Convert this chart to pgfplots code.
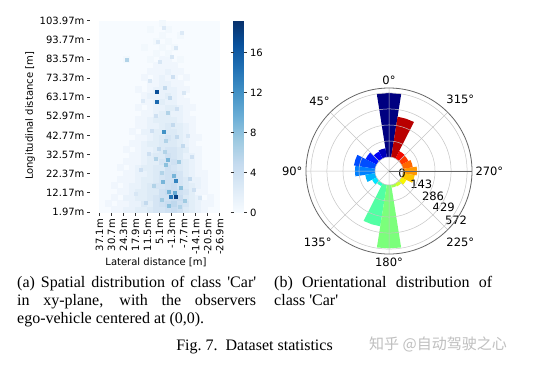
\documentclass[border=0pt]{standalone}
\usepackage{fontspec}
\setmainfont{DejaVu Sans}
\newfontfamily\capfont{Liberation Serif}[Ligatures=TeXOff]
\newfontfamily\cjk{Noto Sans CJK SC}
\usepackage{pgfplots}
\pgfplotsset{compat=1.18}
\usepgfplotslibrary{polar}
\pgfplotsset{/pgf/number format/assume math mode=true}
\definecolor{blues0}{RGB}{247,251,255}
\pgfplotsset{colormap={blues}{rgb255=(247,251,255) rgb255=(222,235,247) rgb255=(198,219,239) rgb255=(158,202,225) rgb255=(107,174,214) rgb255=(66,146,198) rgb255=(33,113,181) rgb255=(8,81,156) rgb255=(8,48,107)}}
\definecolor{jetc0}{RGB}{0,0,128}
\definecolor{jetc1}{RGB}{0,0,185}
\definecolor{jetc2}{RGB}{0,0,244}
\definecolor{jetc3}{RGB}{0,26,255}
\definecolor{jetc4}{RGB}{0,77,255}
\definecolor{jetc5}{RGB}{0,128,255}
\definecolor{jetc6}{RGB}{0,179,255}
\definecolor{jetc7}{RGB}{0,230,255}
\definecolor{jetc8}{RGB}{41,255,206}
\definecolor{jetc9}{RGB}{82,255,164}
\definecolor{jetc10}{RGB}{123,255,123}
\definecolor{jetc11}{RGB}{164,255,82}
\definecolor{jetc12}{RGB}{206,255,41}
\definecolor{jetc13}{RGB}{247,245,0}
\definecolor{jetc14}{RGB}{255,198,0}
\definecolor{jetc15}{RGB}{255,151,0}
\definecolor{jetc16}{RGB}{255,104,0}
\definecolor{jetc17}{RGB}{255,57,0}
\definecolor{jetc18}{RGB}{244,9,0}
\definecolor{jetc19}{RGB}{185,0,0}
\newcommand{\tl}{\fontsize{10}{12}\selectfont}
\newcommand{\pl}{\fontsize{11.5}{13}\selectfont}
\begin{document}
\begin{tikzpicture}
\useasboundingbox (0pt,0pt) rectangle (534pt,365pt);
\fill[white] (0pt,0pt) rectangle (534pt,365pt);
% ---------------- heatmap ----------------
\begin{axis}[
  at={(99pt,152.5pt)}, anchor=south west,
  scale only axis, width=121pt, height=192pt,
  xmin=-0.5, xmax=19.656, ymin=-0.5, ymax=31.494,
  axis background/.style={fill=blues0},
  axis line style={draw=none},
  xtick={-0.406,1.594,3.594,5.594,7.594,9.594,11.594,13.594,15.594,17.594,19.594},
  xticklabels={37.1m,30.7m,24.3m,17.9m,11.5m,5.1m,-1.3m,-7.7m,-14.1m,-20.5m,-26.9m},
  ytick={-0.416,2.772,5.959,9.147,12.334,15.522,18.709,21.897,25.084,28.272,31.459},
  yticklabels={1.97m,12.17m,22.37m,32.57m,42.77m,52.97m,63.17m,73.37m,83.57m,93.77m,103.97m},
  xtick pos=left, ytick pos=left,
  tick align=outside, major tick length=3pt,
  tick style={black!80, line width=0.8pt},
  ytick style={xshift=-9pt},
  yticklabel style={xshift=-8pt},
  tick label style={font=\tl},
  xticklabel style={rotate=90, anchor=east},
  colormap name=blues,
  point meta min=0, point meta max=19.2,
  colorbar,
  colorbar style={
    at={(parent axis.north east)}, anchor=north west, xshift=5pt,
    width=10pt,
    ytick={0,4,8,12,16},
    axis line style={draw=none},
    tick align=outside, major tick length=3pt,
    yticklabel pos=right,
    tick style={black!80, line width=0.8pt},
    yticklabel style={font=\tl},
  },
]
\addplot[scatter, only marks, mark=square*, mark size=3pt,
  scatter/use mapped color={draw=mapped color, fill=mapped color},
  point meta=explicit]
  table[row sep=\\, meta index=2] {
c r v\\
2 0 0.7\\ 3 0 0.7\\ 4 0 1.3\\ 5 0 1.3\\ 6 0 2\\ 7 0 2\\ 8 0 2.6\\ 9 0 3.3\\ 10 0 3.3\\ 11 0 3.9\\ 12 0 4.5\\ 13 0 3.9\\ 14 0 2.6\\ 15 0 2\\ 16 0 1.3\\ 17 0 0.7\\
1 1 0.7\\ 3 1 0.7\\ 4 1 0.7\\ 5 1 1.3\\ 6 1 1.3\\ 7 1 2.6\\ 8 1 2\\ 9 1 3.3\\ 10 1 3.9\\ 11 1 4.5\\ 12 1 5.2\\ 13 1 3.9\\ 14 1 3.3\\ 15 1 2\\ 16 1 1.3\\ 17 1 0.7\\ 18 1 0.7\\
2 2 0.7\\ 4 2 1.3\\ 5 2 1.3\\ 6 2 2\\ 7 2 2\\ 8 2 2.6\\ 9 2 3.3\\ 10 2 3.9\\ 11 2 3.9\\ 12 2 4.5\\ 13 2 4.5\\ 14 2 2.6\\ 15 2 2\\ 16 2 1.3\\ 18 2 0.7\\
3 3 0.7\\ 4 3 0.7\\ 5 3 1.3\\ 6 3 2\\ 7 3 2\\ 8 3 2.6\\ 9 3 2.6\\ 10 3 3.9\\ 11 3 4.5\\ 12 3 4.5\\ 13 3 3.9\\ 14 3 3.3\\ 15 3 2\\ 16 3 0.7\\ 17 3 0.7\\
2 4 0.7\\ 4 4 0.7\\ 5 4 1.3\\ 6 4 1.3\\ 7 4 2\\ 8 4 2.6\\ 9 4 3.3\\ 10 4 3.3\\ 11 4 3.9\\ 12 4 4.5\\ 13 4 3.3\\ 14 4 2.6\\ 15 4 2\\ 16 4 1.3\\ 17 4 0.7\\
3 5 0.7\\ 4 5 0.7\\ 5 5 0.7\\ 6 5 1.3\\ 7 5 2\\ 8 5 2\\ 9 5 2.6\\ 10 5 3.3\\ 11 5 3.9\\ 12 5 3.9\\ 13 5 3.3\\ 14 5 2.6\\ 15 5 1.3\\ 16 5 1.3\\ 17 5 0.7\\
4 6 0.7\\ 5 6 0.7\\ 6 6 1.3\\ 7 6 1.3\\ 8 6 2\\ 9 6 2.6\\ 10 6 3.3\\ 11 6 3.9\\ 12 6 3.9\\ 13 6 3.3\\ 14 6 2\\ 15 6 1.3\\ 16 6 0.7\\ 17 6 0.7\\
3 7 0.7\\ 5 7 0.7\\ 6 7 1.3\\ 7 7 2\\ 8 7 2\\ 9 7 2.6\\ 10 7 2.6\\ 11 7 3.9\\ 12 7 3.3\\ 13 7 2.6\\ 14 7 2\\ 15 7 1.3\\ 16 7 0.7\\
4 8 0.7\\ 5 8 0.7\\ 6 8 0.7\\ 7 8 1.3\\ 8 8 2\\ 9 8 2\\ 10 8 3.3\\ 11 8 3.3\\ 12 8 3.9\\ 13 8 2.6\\ 14 8 2\\ 15 8 1.3\\ 16 8 0.7\\
5 9 0.7\\ 6 9 0.7\\ 7 9 1.3\\ 8 9 2\\ 9 9 2.6\\ 10 9 2.6\\ 11 9 3.9\\ 12 9 3.3\\ 13 9 2.6\\ 14 9 1.3\\ 15 9 1.3\\ 16 9 0.7\\
4 10 0.7\\ 6 10 0.7\\ 7 10 1.3\\ 8 10 1.3\\ 9 10 2\\ 10 10 2.6\\ 11 10 3.3\\ 12 10 3.3\\ 13 10 2.6\\ 14 10 2\\ 15 10 0.7\\ 16 10 0.7\\
5 11 0.7\\ 6 11 0.7\\ 7 11 1.3\\ 8 11 2\\ 9 11 2\\ 10 11 2.6\\ 11 11 2.6\\ 12 11 2.6\\ 13 11 2\\ 14 11 1.3\\ 15 11 0.7\\
6 12 0.7\\ 7 12 0.7\\ 8 12 1.3\\ 9 12 2\\ 10 12 2.6\\ 11 12 3.3\\ 12 12 2.6\\ 13 12 2\\ 14 12 1.3\\ 15 12 0.7\\ 16 12 0.7\\
5 13 0.7\\ 7 13 1.3\\ 8 13 1.3\\ 9 13 2\\ 10 13 2\\ 11 13 2.6\\ 12 13 2.6\\ 13 13 2\\ 14 13 1.3\\ 15 13 0.7\\
6 14 0.7\\ 7 14 0.7\\ 8 14 1.3\\ 9 14 1.3\\ 10 14 2\\ 11 14 2.6\\ 12 14 2\\ 13 14 2\\ 14 14 1.3\\ 15 14 0.7\\
6 15 0.7\\ 7 15 0.7\\ 8 15 1.3\\ 9 15 2\\ 10 15 2\\ 11 15 2\\ 12 15 2\\ 13 15 1.3\\ 14 15 0.7\\ 15 15 0.7\\
7 16 0.7\\ 8 16 0.7\\ 9 16 1.3\\ 10 16 2\\ 11 16 2\\ 12 16 1.3\\ 13 16 1.3\\ 14 16 0.7\\
6 17 0.7\\ 8 17 0.7\\ 9 17 1.3\\ 10 17 1.3\\ 11 17 2\\ 12 17 2\\ 13 17 1.3\\ 14 17 0.7\\ 15 17 0.7\\
7 18 0.7\\ 8 18 0.7\\ 9 18 1.3\\ 10 18 2\\ 11 18 1.3\\ 12 18 1.3\\ 13 18 0.7\\ 14 18 0.7\\
7 19 0.7\\ 8 19 1.3\\ 9 19 1.3\\ 10 19 1.3\\ 11 19 2\\ 12 19 1.3\\ 13 19 0.7\\
6 20 0.7\\ 8 20 0.7\\ 9 20 1.3\\ 10 20 1.3\\ 11 20 1.3\\ 12 20 1.3\\ 13 20 0.7\\ 14 20 0.7\\
8 21 0.7\\ 9 21 0.7\\ 10 21 1.3\\ 11 21 1.3\\ 12 21 0.7\\ 13 21 0.7\\
7 22 0.7\\ 9 22 0.7\\ 10 22 1.3\\ 11 22 0.7\\ 12 22 0.7\\ 14 22 0.7\\
8 23 0.7\\ 9 23 0.7\\ 10 23 0.7\\ 11 23 1.3\\ 12 23 0.7\\ 13 23 0.7\\
9 24 0.7\\ 10 24 0.7\\ 11 24 0.7\\ 12 24 0.7\\
4 25 0.5\\ 8 25 0.5\\ 10 25 0.7\\ 11 25 0.7\\ 13 25 0.5\\
9 26 0.5\\ 11 26 0.5\\
7 27 0.5\\ 10 27 0.5\\ 12 27 0.5\\
9 28 0.5\\ 11 28 0.5\\
10 29 0.5\\ 13 29 0.5\\
8 30 0.5\\ 11 30 0.5\\
10 31 0.5\\
};
\addplot[scatter, only marks, mark=square*, mark size=1.5pt,
  scatter/use mapped color={draw=mapped color, fill=mapped color},
  point meta=explicit]
  table[row sep=\\, meta index=2] {
c r v\\
9.17 19.58 17\\ 9.17 17.92 15\\ 10.33 12.92 12\\ 12.33 4.75 13\\ 11.5 2.08 14\\ 12.33 2.08 18\\
11.0 8.25 9\\ 4.17 24.92 6\\ 10.17 4.58 9\\ 10.67 7.42 8\\ 9.0 8.42 6\\ 12.17 2.75 10\\ 11.17 2.92 9\\
7.3 1.2 5\\ 8.6 3.9 6\\ 13.8 1.5 7\\ 14.6 5.1 5\\ 9.9 6.2 6\\ 12.8 7.9 7\\ 7.7 9.3 4\\ 13.4 10.6 5\\
10.6 11.4 6\\ 11.8 14.2 5\\ 8.9 15.7 4\\ 12.5 16.8 4\\ 10.4 20.3 5\\ 11.7 22.1 4\\ 9.6 24.6 3\\
12.2 26.9 3\\ 8.3 13.1 4\\ 14.2 12.3 3\\ 6.4 6.6 4\\ 15.3 3.3 4\\ 11.1 0.6 8\\ 12.9 0.4 6\\
10.0 1.6 7\\ 13.1 3.6 8\\ 9.4 10.1 5\\ 11.3 18.6 5\\ 10.9 16.1 6\\ 13.6 19.4 3\\ 5.6 2.7 3\\
16.2 1.9 3\\ 7.9 21.4 3\\ 14.9 8.8 4\\ 11.9 5.6 9\\ 10.5 9.6 6\\ 12.4 12.2 5\\ 9.2 27.9 2.5\\
13.3 29.4 2.5\\ 6.8 18.2 2.5\\ 11.6 25.5 3\\ 10.2 30.3 2.5\\
};
\end{axis}
\node[font=\tl, rotate=90] at (30pt,249pt) {Longitudinal distance [m]};
\node[font=\tl] at (156pt,103pt) {Lateral distance [m]};
% ---------------- polar ----------------
\begin{polaraxis}[
  at={(389pt,194pt)}, anchor=center,
  scale only axis, width=166pt, height=166pt,
  xmin=0, xmax=360, ymin=0, ymax=741,
  xtick={0,45,...,315},
  xticklabels={270°,315°,0°,45°,90°,135°,180°,225°},
  ytick={125,268,411,554,697},
  yticklabels={},
  major tick length=0pt,
  grid=major,
  major grid style={gray!45, line width=0.5pt},
  axis line style={black!60, line width=0.8pt},
  axis on top,
  clip=false,
  xticklabel style={font=\pl},
]
\foreach \i/\v in {0/572,1/80,2/70,3/110,4/192,5/179,6/90,7/45,8/27,9/375,10/566,11/25,12/30,13/50,14/107,15/125,16/90,17/70,18/75,19/366} {
  \pgfmathsetmacro\pa{90+18*\i-9}
  \pgfmathsetmacro\pmid{90+18*\i}
  \pgfmathsetmacro\pb{90+18*\i+9}
  \pgfmathsetmacro\ro{125+\v}
  \edef\temp{\noexpand\addplot[draw=none, fill=jetc\i] coordinates {(\pa,125) (\pa,\ro) (\pmid,\ro) (\pb,\ro) (\pb,125) (\pmid,125)} --cycle;}
  \temp
}
\node[font=\pl] at (axis cs:350,118) {0};
\node[font=\pl] at (axis cs:337.6,312) {143};
\node[font=\pl] at (axis cs:330.1,454) {286};
\node[font=\pl] at (axis cs:326.6,585) {429};
\node[font=\pl] at (axis cs:323.8,741) {572};
\end{polaraxis}
% ---------------- captions ----------------
\node[anchor=north west, inner sep=0pt, text width=239pt, align=justify, font=\capfont\fontsize{16}{18}\selectfont] at (17pt,89pt)
  {(a) Spatial distribution of class \textquotesingle Car\textquotesingle\linebreak in xy-plane, with the observers\linebreak ego-vehicle centered at (0,0).};
\node[anchor=north west, inner sep=0pt, text width=218pt, align=justify, font=\capfont\fontsize{16}{18}\selectfont] at (274pt,89pt)
  {(b) Orientational distribution of\linebreak class \textquotesingle Car\textquotesingle};
\node[anchor=base, inner sep=0pt, font=\capfont\fontsize{16}{18}\selectfont] at (254.5pt,15pt) {Fig.~7.\ \ Dataset statistics};
\node[anchor=base west, inner sep=0pt, font=\cjk\fontsize{15}{18}\selectfont, text=gray!50] at (369pt,16pt) {知乎 @自动驾驶之心};
\end{tikzpicture}
\end{document}
